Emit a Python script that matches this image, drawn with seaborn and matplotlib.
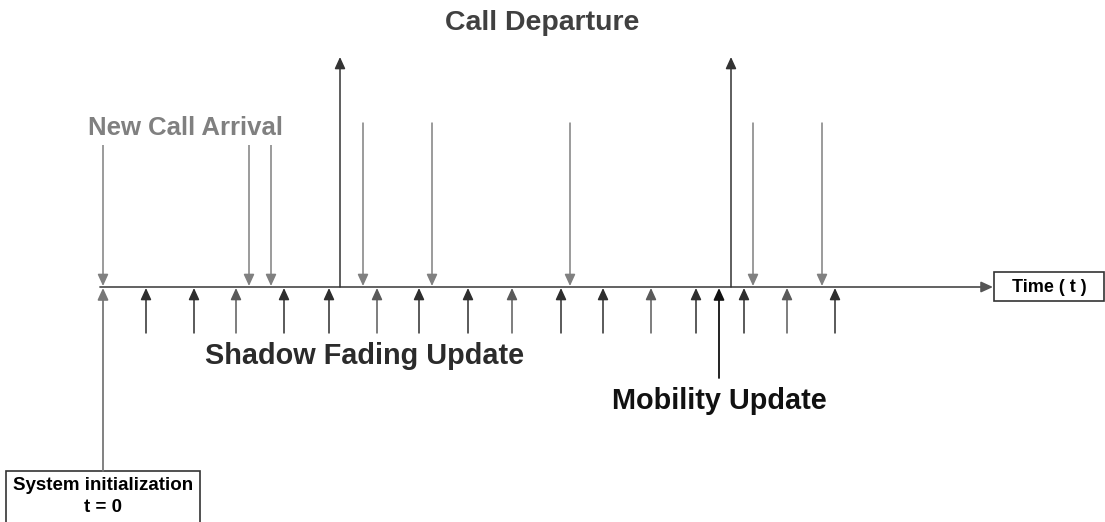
import matplotlib
matplotlib.use("Agg")
import matplotlib.pyplot as plt
from matplotlib.patches import Rectangle
import seaborn as sns

sns.set_theme(style="white")
plt.rcParams["font.family"] = ["Liberation Sans", "DejaVu Sans"]

# event times (time axis starts at t = 0)
shadow_times = [43, 91, 133, 181, 226, 274, 316, 365, 409, 458, 500, 548, 593, 641, 684, 732]
mobility_times = [616]
arrival_times = [0, 146, 168, 260, 329, 467, 650, 719]
departure_times = [237, 628]
t_end = 890

labels = {
    "departure": "Call Departure",
    "arrival": "New Call Arrival",
    "shadow": "Shadow Fading Update",
    "mobility": "Mobility Update",
    "axis": "Time ( t )",
    "init": ["System initialization", "t = 0"],
}

fig = plt.figure(figsize=(11.05, 5.22), dpi=100)
ax = fig.add_axes([0, 0, 1, 1])
ax.set_xlim(-103, 1002)
ax.set_ylim(522, 0)
ax.axis("off")

y_line = 287
head = "-|>,head_length=0.7,head_width=0.32"


def arrow(x0, y0, x1, y1, color, lw=1.1):
    ax.annotate("", xy=(x1, y1), xytext=(x0, y0),
                arrowprops=dict(arrowstyle=head, mutation_scale=10, color=color,
                                lw=lw, shrinkA=0, shrinkB=0))


# time line
arrow(-3, y_line, t_end, y_line, "#555555", lw=1.3)

# arrivals (down, gray)
for t in arrival_times:
    arrow(t, 123, t, y_line - 1, "#808080")

# departures (up, long)
for t in departure_times:
    arrow(t, y_line, t, 57, "#333333")

# shadow fading updates (short, up)
for i, t in enumerate(shadow_times):
    arrow(t, 333, t, y_line + 1, "#2e2e2e" if i % 3 != 2 else "#5a5a5a")

# mobility updates
for t in mobility_times:
    arrow(t, 378, t, y_line + 1, "#111111", lw=1.3)

# system initialization
arrow(0, 471, 0, y_line + 1, "#777777", lw=1.3)

ax.text(439, 23, labels["departure"], ha="center", va="center",
        fontsize=20.5, fontweight="bold", color="#404040")
ax.text(82, 128, labels["arrival"], ha="center", va="center",
        fontsize=18.5, fontweight="bold", color="#808080", zorder=5,
        bbox=dict(boxstyle="square,pad=0.2", fc="white", ec="none"))
ax.text(262, 356, labels["shadow"], ha="center", va="center",
        fontsize=20.8, fontweight="bold", color="#2b2b2b")
ax.text(616, 401, labels["mobility"], ha="center", va="center",
        fontsize=20.8, fontweight="bold", color="#111111")

# time axis label box
ax.add_patch(Rectangle((891, 272), 110, 29, fc="white", ec="#333333", lw=1.2))
ax.text(946, 287, labels["axis"], ha="center", va="center",
        fontsize=13, fontweight="bold", color="black")

# system initialization box
ax.add_patch(Rectangle((-97, 471), 194, 60, fc="white", ec="#333333", lw=1.2,
                       clip_on=True))
for y, line in zip([486, 507], labels["init"]):
    ax.text(0, y, line, ha="center", va="center",
            fontsize=13.5, fontweight="bold", color="black")

fig.savefig("out.png", dpi=100)
